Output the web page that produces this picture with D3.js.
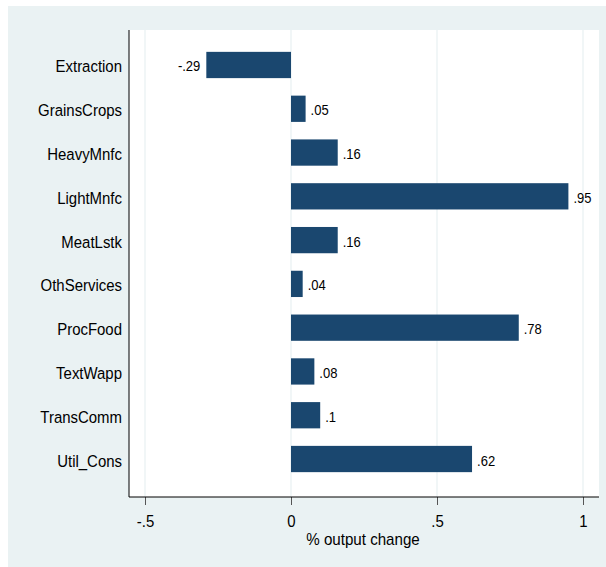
<!DOCTYPE html>
<html>
<head>
<meta charset="utf-8">
<script src="https://cdn.jsdelivr.net/npm/d3@7/dist/d3.min.js"></script>
<style>
  html, body { margin: 0; padding: 0; background: #ffffff; }
  svg { display: block; }
  text { font-family: "Liberation Sans", Arial, sans-serif; fill: #000; }
</style>
</head>
<body>
<svg id="chart" width="606" height="567"></svg>
<script>
const categories = ["Extraction", "GrainsCrops", "HeavyMnfc", "LightMnfc", "MeatLstk",
                    "OthServices", "ProcFood", "TextWapp", "TransComm", "Util_Cons"];
const values = [-0.29, 0.05, 0.16, 0.95, 0.16, 0.04, 0.78, 0.08, 0.10, 0.62];
const valueLabels = ["-.29", ".05", ".16", ".95", ".16", ".04", ".78", ".08", ".1", ".62"];
const xTicks = [-0.5, 0, 0.5, 1];
const xTickLabels = ["-.5", "0", ".5", "1"];
const xTitle = "% output change";

const svg = d3.select("#chart");
const W = 606, H = 567;
const bgColor = "#eaf2f3";
const barColor = "#1a476f";

// outer background
svg.append("rect").attr("x", 8).attr("y", 6).attr("width", W - 8).attr("height", H - 6)
  .attr("fill", bgColor);

// plot region
const plot = { left: 129, right: 599, top: 30, bottom: 497 };
svg.append("rect").attr("x", plot.left).attr("y", plot.top)
  .attr("width", plot.right - plot.left).attr("height", plot.bottom - plot.top)
  .attr("fill", "#ffffff");

const x = d3.scaleLinear().domain([-0.5, 1]).range([145, 583]);
const y = d3.scaleBand().domain(categories).range([43.1, 480.9])
  .paddingInner(0.4).paddingOuter(0.2);

// grid lines
svg.append("g").selectAll("line").data(xTicks).join("line")
  .attr("x1", d => x(d)).attr("x2", d => x(d))
  .attr("y1", plot.top).attr("y2", plot.bottom)
  .attr("stroke", bgColor).attr("stroke-width", 1.3);

// bars
svg.append("g").selectAll("rect").data(values).join("rect")
  .attr("x", d => x(Math.min(0, d)))
  .attr("width", d => Math.abs(x(d) - x(0)))
  .attr("y", (d, i) => y(categories[i]))
  .attr("height", y.bandwidth())
  .attr("fill", barColor);

// value labels
svg.append("g").selectAll("text").data(values).join("text")
  .attr("transform", (d, i) => `translate(${d < 0 ? x(d) - 6 : x(d) + 5},${y(categories[i]) + y.bandwidth() / 2 + 6.5}) scale(0.93,1)`)
  .attr("text-anchor", d => d < 0 ? "end" : "start")
  .style("font-size", "14px")
  .text((d, i) => valueLabels[i]);

// y category labels
svg.append("g").selectAll("text").data(categories).join("text")
  .attr("transform", d => `translate(122,${y(d) + y.bandwidth() / 2 + 7.5}) scale(0.88,1)`)
  .attr("text-anchor", "end")
  .style("font-size", "17px")
  .text(d => d);

// x axis
const xAxis = d3.axisBottom(x).tickValues(xTicks).tickSize(8).tickPadding(5)
  .tickFormat((d, i) => xTickLabels[i]);
const gx = svg.append("g").attr("transform", `translate(0,${plot.bottom})`).call(xAxis);
gx.select(".domain").remove();
gx.selectAll(".tick line").attr("stroke", "#555").attr("stroke-width", 1);
gx.selectAll(".tick text").remove();
gx.selectAll(".tick").append("text")
  .attr("transform", "translate(0,30) scale(0.88,1)")
  .attr("text-anchor", "middle")
  .style("font-size", "17px")
  .text((d, i) => xTickLabels[i]);

// axis lines
svg.append("line").attr("x1", plot.left).attr("x2", plot.right)
  .attr("y1", plot.bottom).attr("y2", plot.bottom)
  .attr("stroke", "#000").attr("stroke-width", 1);
svg.append("line").attr("x1", plot.left).attr("x2", plot.left)
  .attr("y1", plot.top).attr("y2", plot.bottom)
  .attr("stroke", "#000").attr("stroke-width", 1);

// x title
svg.append("text")
  .attr("transform", `translate(${(plot.left + plot.right) / 2 - 1},545) scale(0.89,1)`)
  .attr("text-anchor", "middle")
  .style("font-size", "17px")
  .text(xTitle);
</script>
</body>
</html>
